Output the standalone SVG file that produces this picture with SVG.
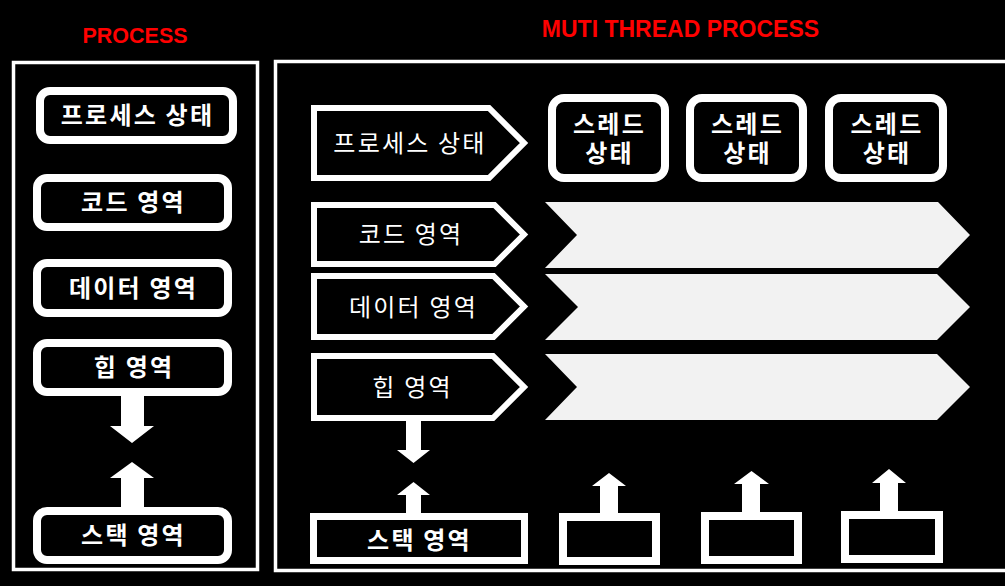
<svg xmlns="http://www.w3.org/2000/svg" width="1005" height="586" viewBox="0 0 1005 586">
<style>
.frame{fill:none;stroke:#fff;stroke-width:3.5}
.rbox{fill:#000;stroke:#fff;stroke-width:8}
.tag{fill:#000;stroke:#fff;stroke-width:6;stroke-linejoin:miter}
.sbox{fill:#000;stroke:#fff;stroke-width:8}
.chev{fill:#f2f2f2}
.arrow{fill:#fff}
.title{fill:#ff0000;font-family:"Liberation Sans",Arial,sans-serif;font-weight:bold;font-size:21.5px;text-anchor:middle}
.kb{fill:#fff;font-family:"Noto Sans CJK KR",sans-serif;font-weight:bold;font-size:24px;letter-spacing:2.2px;text-anchor:middle}
.kr{fill:#fff;font-family:"Noto Sans CJK KR",sans-serif;font-weight:normal;font-size:24px;letter-spacing:2.2px;text-anchor:middle}
</style>
<rect width="1005" height="586" fill="#000"/>
<g id="left-panel">
<text class="title" x="135" y="43">PROCESS</text>
<rect class="frame" x="13.5" y="62.5" width="244" height="507"/>
</g>
<g id="right-panel">
<text class="title" x="680.5" y="37" style="font-size:23px">MUTI THREAD PROCESS</text>
<rect class="frame" x="275.5" y="61.5" width="800" height="509"/>
</g>
<g id="l-process-state"><rect class="rbox" x="40" y="91" width="193" height="49" rx="10"/><text class="kb" x="137.5" y="124">프로세스 상태</text></g>
<g id="l-code"><rect class="rbox" x="37" y="178" width="191" height="49" rx="10"/><text class="kb" x="133.5" y="211">코드 영역</text></g>
<g id="l-data"><rect class="rbox" x="37" y="263" width="191" height="50" rx="10"/><text class="kb" x="133.5" y="297">데이터 영역</text></g>
<g id="l-heap"><rect class="rbox" x="37" y="343" width="191" height="49" rx="10"/><text class="kb" x="134" y="376">힙 영역</text></g>
<g id="l-stack"><rect class="rbox" x="37" y="511" width="191" height="49" rx="10"/><text class="kb" x="133.5" y="544">스택 영역</text></g>
<g id="r-process-state"><path class="tag" d="M314,108 H489 L524,143 L489,178 H314 Z"/><text class="kr" x="410" y="152">프로세스 상태</text></g>
<g id="r-code"><path class="tag" d="M314,205 H494.5 L524,234.5 L494.5,264 H314 Z"/><text class="kr" x="411" y="242.5">코드 영역</text></g>
<g id="r-data"><path class="tag" d="M314,276 H493.5 L524,306.5 L493.5,337 H314 Z"/><text class="kr" x="413.5" y="315.5">데이터 영역</text></g>
<g id="r-heap"><path class="tag" d="M314,356 H493 L524,387 L493,418 H314 Z"/><text class="kr" x="412.5" y="396">힙 영역</text></g>
<g id="thread-1"><rect class="rbox" x="552" y="98" width="113" height="80" rx="12"/><text class="kb"><tspan x="609.5" y="133">스레드</tspan><tspan x="609.5" y="161.5">상태</tspan></text></g>
<g id="thread-2"><rect class="rbox" x="690" y="98" width="113" height="80" rx="12"/><text class="kb"><tspan x="747.5" y="133">스레드</tspan><tspan x="747.5" y="161.5">상태</tspan></text></g>
<g id="thread-3"><rect class="rbox" x="829" y="98" width="114" height="80" rx="12"/><text class="kb"><tspan x="887" y="133">스레드</tspan><tspan x="887" y="161.5">상태</tspan></text></g>
<g id="chevrons">
<polygon class="chev" points="545,202 938,202 970,235 938,268 545,268 577,235"/>
<polygon class="chev" points="545,274 937,274 970,307 937,340 545,340 578,307"/>
<polygon class="chev" points="545,354 937,354 970,387 937,420 545,420 577,387"/>
</g>
<g id="r-stack"><rect x="313.5" y="516.5" width="211" height="44" fill="#000" stroke="#fff" stroke-width="7"/><text class="kb" x="419.5" y="549">스택 영역</text></g>
<g id="stack-1"><rect class="sbox" x="563" y="517" width="93" height="44"/></g>
<g id="stack-2"><rect class="sbox" x="705" y="516" width="93" height="44"/></g>
<g id="stack-3"><rect class="sbox" x="845" y="515" width="94" height="44"/></g>
<g id="connectors">
<polygon class="arrow" points="121,396 144,396 144,426 154,426 132,443 110,426 121,426"/>
<polygon class="arrow" points="132,462 154,478 144,478 144,507 121,507 121,478 110,478"/>
<polygon class="arrow" points="406,421 421,421 421,450 430,450 413.5,463 397,450 406,450"/>
<polygon class="arrow" points="413.5,482 430,495 421,495 421,513 406,513 406,495 397,495"/>
<polygon class="arrow" points="609,473 626,486 618,486 618,513 600,513 600,486 592,486"/>
<polygon class="arrow" points="751.5,471 769,484 760,484 760,512 742,512 742,484 734,484"/>
<polygon class="arrow" points="889,469 906,483 898,483 898,511 880,511 880,483 872,483"/>
</g>
</svg>
